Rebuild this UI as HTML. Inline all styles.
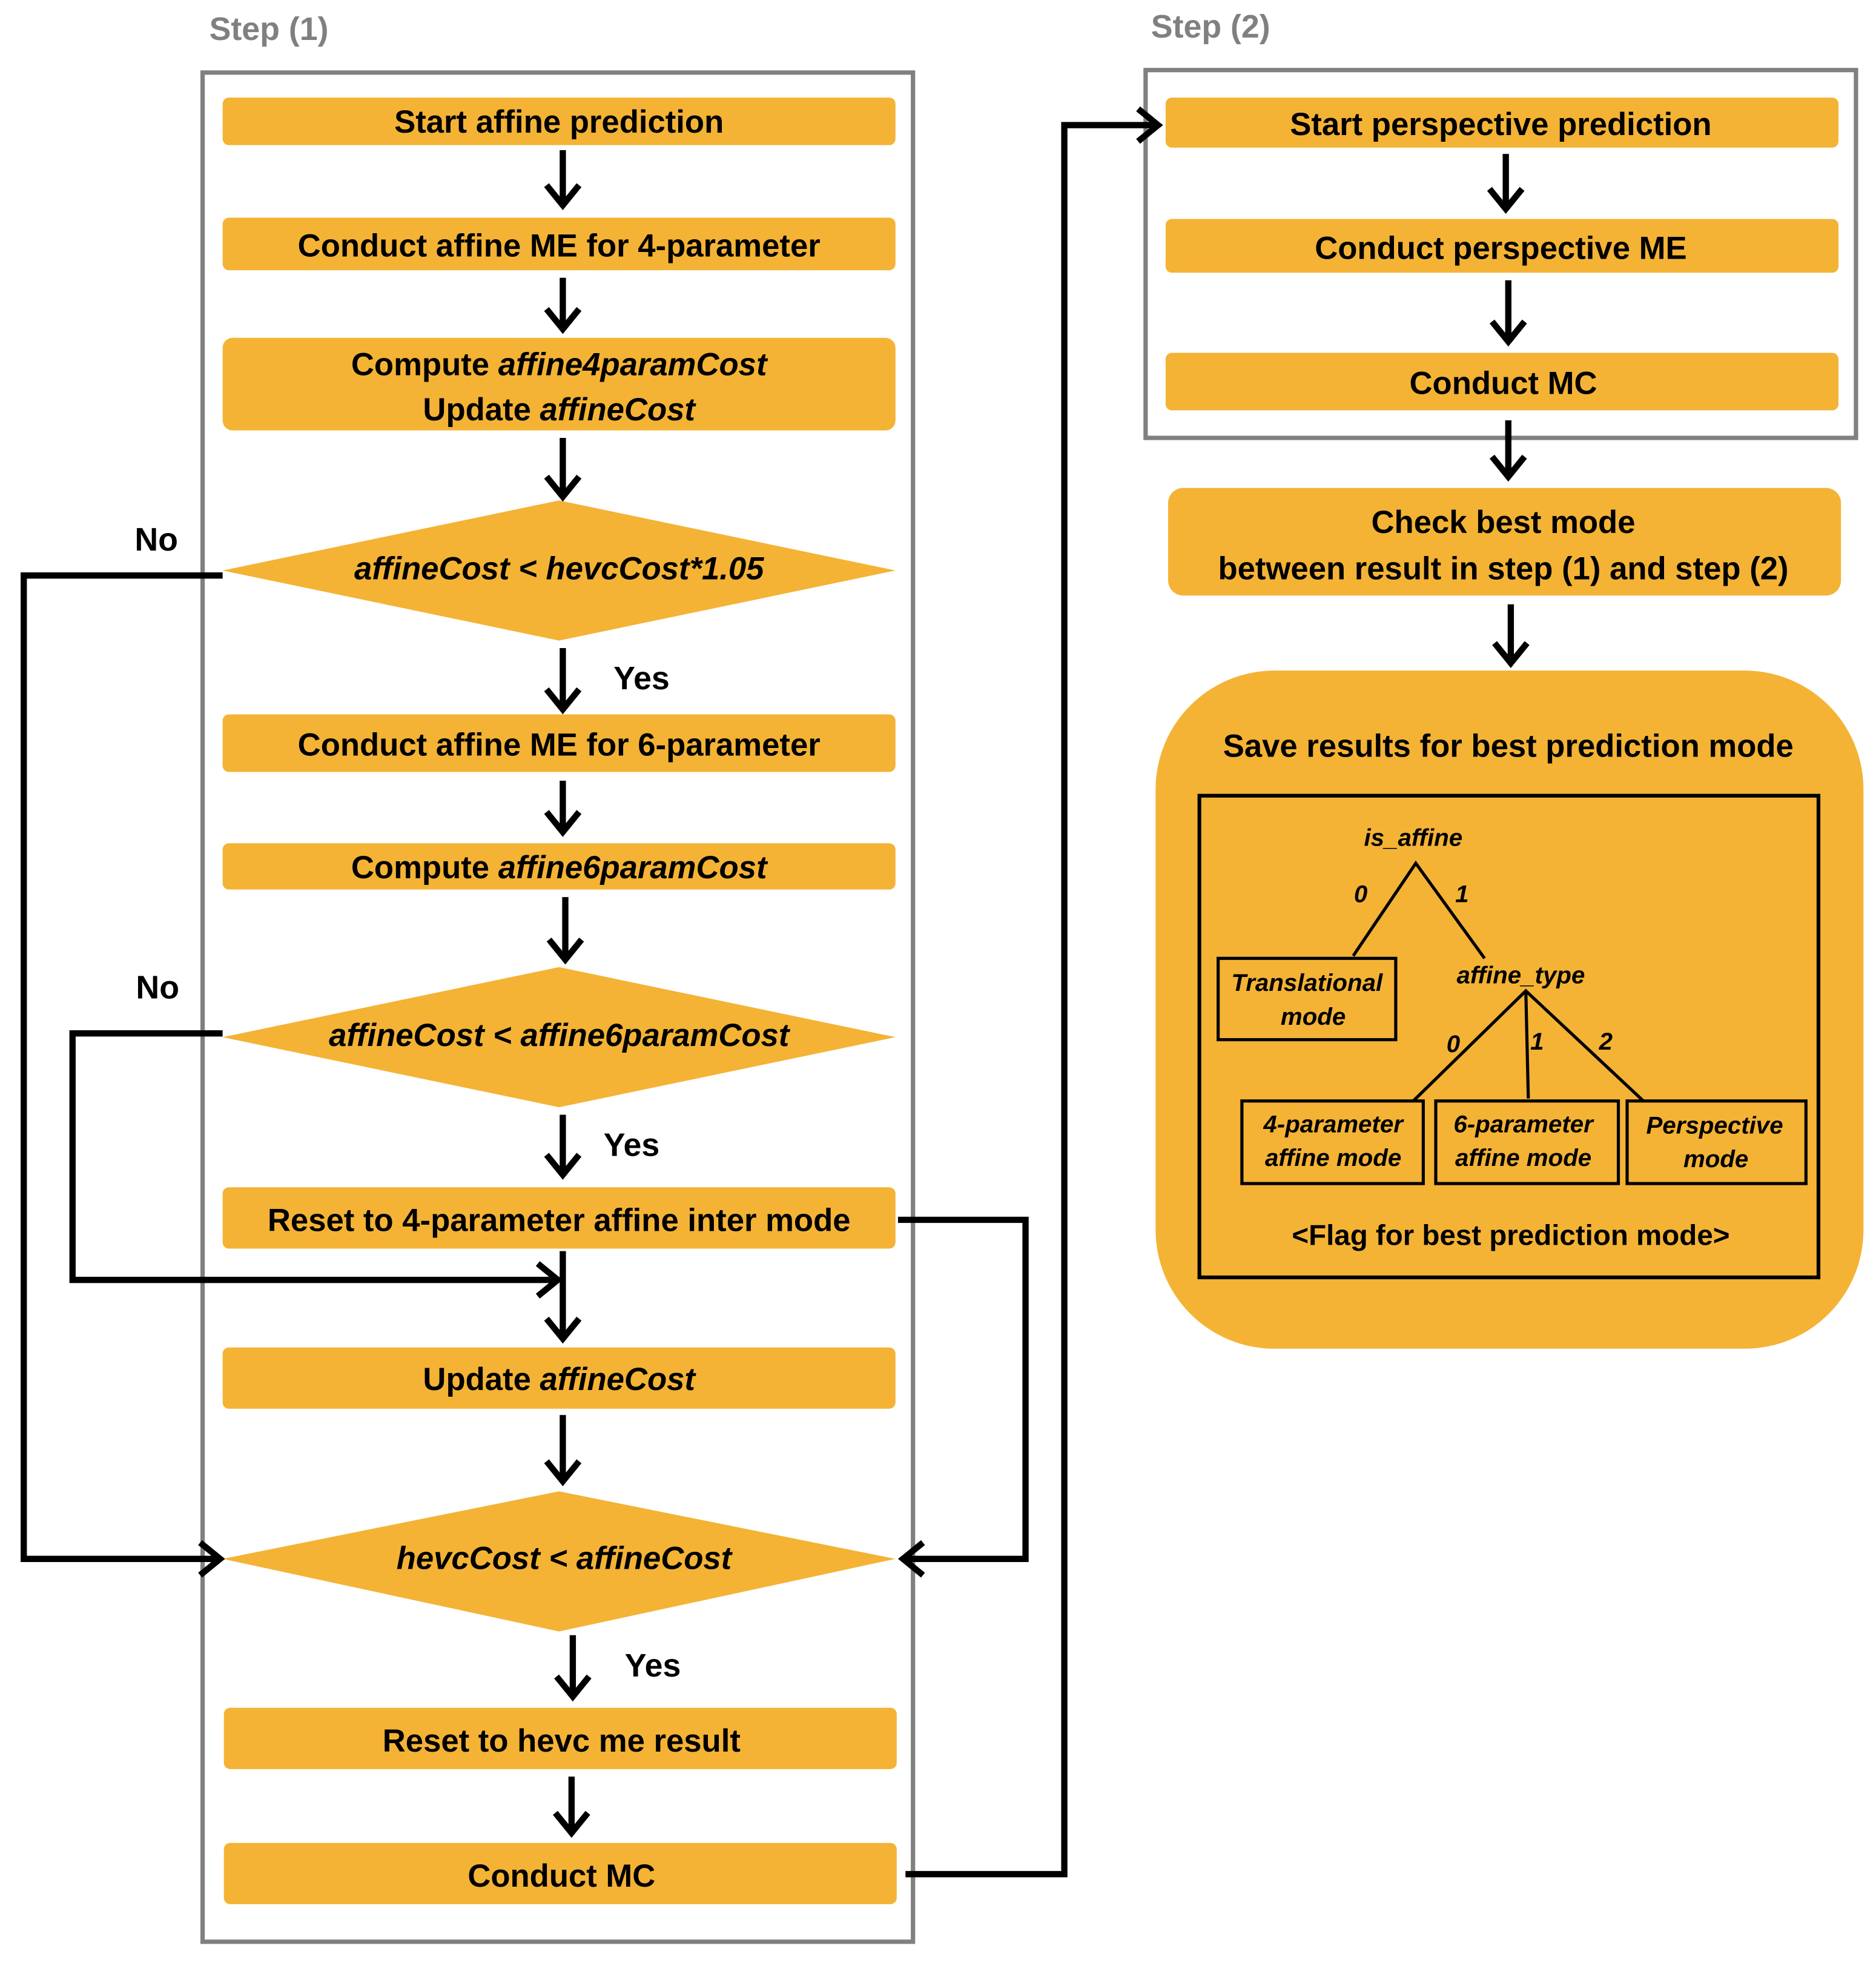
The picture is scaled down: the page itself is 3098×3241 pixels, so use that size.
<!DOCTYPE html>
<html><head><meta charset="utf-8"><style>
html,body{margin:0;padding:0;background:#fff}
svg{display:block}
text{font-family:"Liberation Sans",sans-serif;font-weight:bold;fill:#000}
</style></head><body>
<svg width="3098" height="3241" viewBox="0 0 1500 1569" preserveAspectRatio="none" xmlns="http://www.w3.org/2000/svg">
<g font-size="26" text-anchor="middle">
<text x="215" y="32" style="fill:#808080">Step (1)</text>
<text x="968" y="30" style="fill:#808080">Step (2)</text>
</g>
<rect x="162" y="58" width="568" height="1494" fill="none" stroke="#808080" stroke-width="3.5"/>
<rect x="916" y="56" width="568" height="294" fill="none" stroke="#808080" stroke-width="3.5"/>

<g fill="#F4B335">
<rect x="178" y="78" width="538" height="38" rx="5"/>
<rect x="178" y="174" width="538" height="42" rx="5"/>
<rect x="178" y="270" width="538" height="74" rx="8"/>
<polygon points="178,456 447,400 716,456 447,512"/>
<rect x="178" y="571" width="538" height="46" rx="5"/>
<rect x="178" y="674" width="538" height="37" rx="5"/>
<polygon points="178,829 447,773 716,829 447,885"/>
<rect x="178" y="949" width="538" height="49" rx="5"/>
<rect x="178" y="1077" width="538" height="49" rx="5"/>
<polygon points="178,1246 447,1192 716,1246 447,1304"/>
<rect x="179" y="1365" width="538" height="49" rx="5"/>
<rect x="179" y="1473" width="538" height="49" rx="5"/>
<rect x="932" y="78" width="538" height="40" rx="5"/>
<rect x="932" y="175" width="538" height="43" rx="5"/>
<rect x="932" y="282" width="538" height="46" rx="5"/>
<rect x="934" y="390" width="538" height="86" rx="12"/>
<rect x="924" y="536" width="566" height="542" rx="95"/>
</g>

<g font-size="25.5" text-anchor="middle">
<text x="447" y="106">Start affine prediction</text>
<text x="447" y="205">Conduct  affine ME for 4-parameter</text>
<text x="447" y="300">Compute <tspan font-style="italic">affine4paramCost</tspan></text>
<text x="447" y="336">Update <tspan font-style="italic">affineCost</tspan></text>
<text x="447" y="463" font-style="italic">affineCost &lt; hevcCost*1.05</text>
<text x="447" y="604">Conduct  affine ME for 6-parameter</text>
<text x="447" y="702">Compute <tspan font-style="italic">affine6paramCost</tspan></text>
<text x="447" y="836" font-style="italic">affineCost &lt; affine6paramCost</text>
<text x="447" y="984">Reset to 4-parameter affine inter mode</text>
<text x="447" y="1111">Update <tspan font-style="italic">affineCost</tspan></text>
<text x="451" y="1254" font-style="italic">hevcCost &lt; affineCost</text>
<text x="449" y="1400">Reset to hevc me result</text>
<text x="449" y="1508">Conduct  MC</text>
<text x="1200" y="108">Start perspective prediction</text>
<text x="1200" y="207">Conduct  perspective ME</text>
<text x="1202" y="315">Conduct  MC</text>
<text x="1202" y="426">Check best mode</text>
<text x="1202" y="463">between result in step (1) and step (2)</text>
<text x="1206" y="605">Save results for  best prediction  mode</text>
</g>
<g font-size="26" text-anchor="middle">
<text x="125" y="440">No</text>
<text x="126" y="798">No</text>
<text x="513" y="551">Yes</text>
<text x="505" y="924">Yes</text>
<text x="522" y="1340">Yes</text>
</g>

<g fill="none" stroke="#000" stroke-width="5" stroke-linejoin="miter">
<path d="M450 120V163M437 148L450 164L463 148"/>
<path d="M450 222V262M437 247L450 263L463 247"/>
<path d="M450 350V396M437 381L450 397L463 381"/>
<path d="M450 518V566M437 551L450 567L463 551"/>
<path d="M450 624V664M437 649L450 665L463 649"/>
<path d="M452 717V766M439 751L452 767L465 751"/>
<path d="M450 891V938M437 923L450 939L463 923"/>
<path d="M450 1000V1069M437 1054L450 1070L463 1054"/>
<path d="M450 1131V1183M437 1168L450 1184L463 1168"/>
<path d="M458 1307V1355M445 1340L458 1356L471 1340"/>
<path d="M457 1420V1464M444 1449L457 1465L470 1449"/>
<path d="M1204 123V166M1191 151L1204 167L1217 151"/>
<path d="M1206 224V272M1193 257L1206 273L1219 257"/>
<path d="M1206 336V380M1193 365L1206 381L1219 365"/>
<path d="M1208 483V529M1195 514L1208 530L1221 514"/>
<path d="M178 460H19V1246H176M160 1233L176 1246L160 1259"/>
<path d="M178 826H58V1023H446M430 1010L446 1023L430 1036"/>
<path d="M718 975H820V1246H722M738 1233L722 1246L738 1259"/>
<path d="M724 1498H851V100H926M910 87L926 100L910 113"/>
</g>

<rect x="959" y="636" width="495" height="385" fill="none" stroke="#000" stroke-width="3"/>
<g fill="none" stroke="#000" stroke-width="2.5">
<path d="M1082 764L1132 690L1187 766"/>
<path d="M1130 880L1220 792L1314 880M1220 792L1222 878"/>
<rect x="974" y="766" width="142" height="65"/>
<rect x="993" y="880" width="145" height="66"/>
<rect x="1148" y="880" width="146" height="66"/>
<rect x="1301" y="880" width="143" height="66"/>
</g>
<g font-size="19.5" font-style="italic" text-anchor="middle">
<text x="1130" y="676">is_affine</text>
<text x="1088" y="721">0</text>
<text x="1169" y="721">1</text>
<text x="1045" y="792">Translational</text>
<text x="1050" y="819">mode</text>
<text x="1216" y="786">affine_type</text>
<text x="1162" y="841">0</text>
<text x="1229" y="839">1</text>
<text x="1284" y="839">2</text>
<text x="1066" y="905">4-parameter</text>
<text x="1066" y="932">affine mode</text>
<text x="1218" y="905">6-parameter</text>
<text x="1218" y="932">affine mode</text>
<text x="1371" y="906">Perspective</text>
<text x="1372" y="933">mode</text>
</g>
<text x="1208" y="995" font-size="23" text-anchor="middle">&lt;Flag for best prediction mode&gt;</text>
</svg>
</body></html>
